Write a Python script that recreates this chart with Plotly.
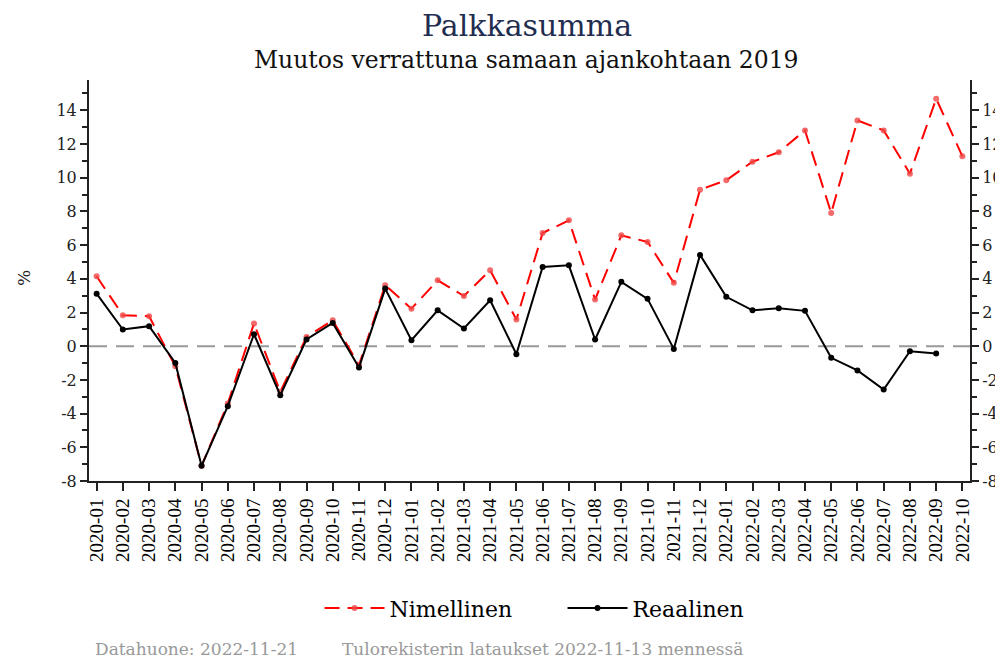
import plotly.graph_objects as go

months = ["2020-01","2020-02","2020-03","2020-04","2020-05","2020-06","2020-07","2020-08","2020-09","2020-10","2020-11","2020-12",
          "2021-01","2021-02","2021-03","2021-04","2021-05","2021-06","2021-07","2021-08","2021-09","2021-10","2021-11","2021-12",
          "2022-01","2022-02","2022-03","2022-04","2022-05","2022-06","2022-07","2022-08","2022-09","2022-10"]

nimellinen = [4.15, 1.84, 1.78, -1.19, -7.1, -3.4, 1.35, -2.71, 0.55, 1.54, -1.13, 3.62,
              2.23, 3.91, 2.98, 4.51, 1.58, 6.72, 7.47, 2.77, 6.58, 6.19, 3.76, 9.29,
              9.85, 10.95, 11.51, 12.81, 7.91, 13.4, 12.81, 10.24, 14.69, 11.27]

reaalinen = [3.12, 0.99, 1.19, -0.99, -7.1, -3.56, 0.71, -2.91, 0.4, 1.38, -1.27, 3.42,
             0.36, 2.13, 1.05, 2.73, -0.47, 4.7, 4.8, 0.4, 3.82, 2.81, -0.16, 5.42,
             2.93, 2.13, 2.25, 2.1, -0.69, -1.44, -2.57, -0.3, -0.43, None]

title_text = "Palkkasumma"
subtitle_text = "Muutos verrattuna samaan ajankohtaan 2019"
footer_left = "Datahuone: 2022-11-21"
footer_right = "Tulorekisterin lataukset 2022-11-13 mennessä"

yticks = list(range(-8, 15, 2))
yticklabels = [str(v) for v in yticks]

fig = go.Figure()
fig.add_trace(go.Scatter(
    x=months, y=nimellinen, name="Nimellinen", mode="lines+markers",
    line=dict(color="#ff0000", width=2, dash="15px,8px"),
    marker=dict(color="rgba(240,70,70,0.8)", size=6),
))
fig.add_trace(go.Scatter(
    x=months, y=reaalinen, name="Reaalinen", mode="lines+markers",
    line=dict(color="#000000", width=2),
    marker=dict(color="#000000", size=6),
))
# invisible trace to show the right-hand axis
fig.add_trace(go.Scatter(
    x=months, y=nimellinen, yaxis="y2", mode="lines", line=dict(width=0),
    opacity=0, showlegend=False, hoverinfo="skip",
))

axis_common = dict(
    range=[-8, 15.8], tickvals=yticks, ticktext=yticklabels, ticks="outside", ticklen=7, tickwidth=1.5,
    tickcolor="#222", showline=True, linecolor="#222", linewidth=2, showgrid=False,
    zeroline=False, automargin=False, tickfont=dict(family="DejaVu Serif", size=16, color="#222"),
    minor=dict(dtick=1, ticks="outside", ticklen=5, tickwidth=1.5, tickcolor="#222", showgrid=False),
)

# page has an 8px body margin: figure is sized/offset to compensate
fig.update_layout(
    width=995, height=652,
    margin=dict(l=81, r=33, t=72, b=179, autoexpand=False),
    paper_bgcolor="white", plot_bgcolor="white",
    showlegend=True,
    legend=dict(orientation="h", x=0.5375, xanchor="center", y=-0.317, yanchor="middle",
                font=dict(family="DejaVu Serif", size=22, color="#000"),
                itemwidth=60, entrywidth=168, traceorder="normal"),
    xaxis=dict(type="category", range=[-0.29, 33.29], ticks="outside", ticklen=8, tickwidth=1.5,
               tickcolor="#222", showline=True, linecolor="#222", linewidth=2, showgrid=False,
               automargin=False,
               tickangle=-90, tickfont=dict(family="Liberation Serif", size=19, color="#000")),
    yaxis=dict(side="left", **axis_common),
    yaxis2=dict(side="right", overlaying="y", **axis_common),
    shapes=[dict(type="line", xref="paper", x0=0, x1=1, yref="y", y0=0, y1=0,
                 line=dict(color="#999999", width=2, dash="18px,9px"), layer="below")],
    annotations=[
        dict(text=title_text, xref="paper", yref="paper", x=0.497, y=(473 - 18) / 401, showarrow=False,
             xanchor="center", yanchor="middle",
             font=dict(family="DejaVu Serif", size=30, color="#1f2d50")),
        dict(text=subtitle_text, xref="paper", yref="paper", x=0.497, y=1.05, showarrow=False,
             xanchor="center", yanchor="middle",
             font=dict(family="DejaVu Serif", size=23.5, color="#111")),
        dict(text="%", xref="paper", yref="paper", x=(24 - 89) / 881, y=(481 - 278) / 401,
             showarrow=False, xanchor="center", yanchor="middle", textangle=-90,
             font=dict(family="DejaVu Serif", size=17, color="#222")),
        dict(text=footer_left, xref="paper", yref="paper", x=(93 - 89) / 881, y=(473 - 641) / 401,
             showarrow=False, xanchor="left", yanchor="middle",
             font=dict(family="DejaVu Serif", size=17, color="#999999")),
        dict(text=footer_right, xref="paper", yref="paper", x=(340 - 89) / 881, y=(473 - 641) / 401,
             showarrow=False, xanchor="left", yanchor="middle",
             font=dict(family="DejaVu Serif", size=17, color="#999999")),
    ],
)

fig.write_html("out.html")
